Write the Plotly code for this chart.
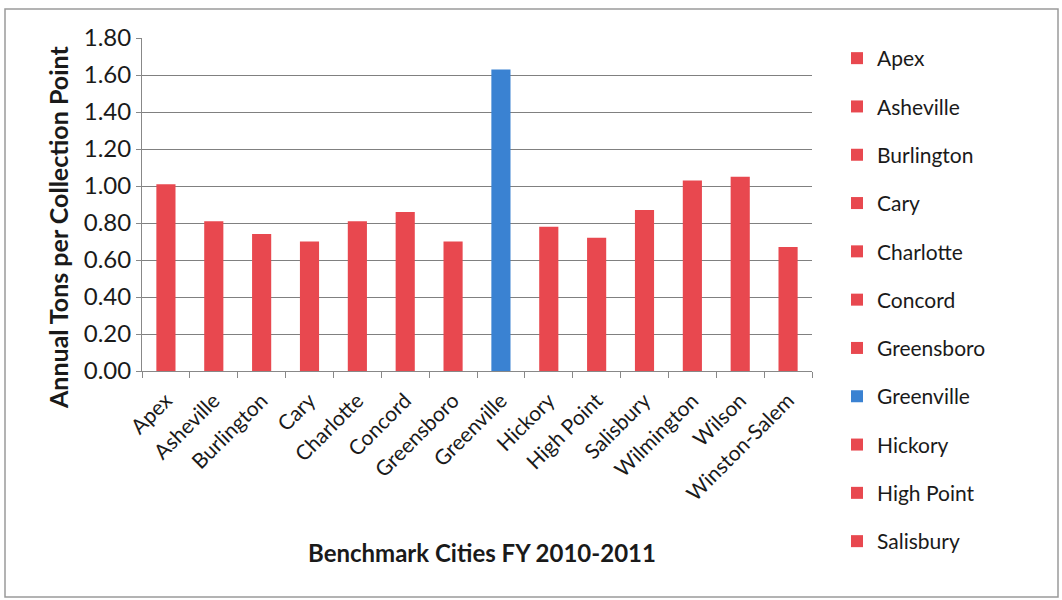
import plotly.graph_objects as go

# Benchmark cities and annual tons per collection point, FY 2010-2011
cities = ["Apex", "Asheville", "Burlington", "Cary", "Charlotte", "Concord",
          "Greensboro", "Greenville", "Hickory", "High Point", "Salisbury",
          "Wilmington", "Wilson", "Winston-Salem"]
tons = [1.01, 0.81, 0.74, 0.70, 0.81, 0.86, 0.70, 1.63, 0.78, 0.72, 0.87,
        1.03, 1.05, 0.67]
highlight = "Greenville"
legend_count = 11  # entries that fit in the legend box

RED = "#E8484F"
BLUE = "#3A82D2"
FONT = "Lato, Carlito, 'Open Sans', sans-serif"

fig = go.Figure()
for i, (c, v) in enumerate(zip(cities, tons)):
    fig.add_trace(go.Bar(
        x=[c], y=[v], name=c, width=0.4,
        marker=dict(color=BLUE if c == highlight else RED, line=dict(width=0)),
        showlegend=i < legend_count,
        legendgroup=c,
    ))

W, H = 1062, 600
L, R, T, B = 142, 250, 38, 229
pw, ph = W - L - R, H - T - B

def px(x):
    return (x - L) / pw

def py(y):
    return (H - B - y) / ph

fig.update_layout(
    width=W, height=H,
    margin=dict(l=L, r=R, t=T, b=B),
    paper_bgcolor="white", plot_bgcolor="white",
    barmode="overlay",
    font=dict(family=FONT, color="#1a1a1a"),
    showlegend=True,
    legend=dict(
        x=px(837), y=py(38), xanchor="left", yanchor="top",
        font=dict(size=21, family=FONT, color="#1a1a1a"),
        traceorder="grouped", tracegroupgap=18,
        itemwidth=30, bgcolor="rgba(0,0,0,0)",
        maxheight=560,
    ),
    xaxis=dict(
        categoryorder="array", categoryarray=cities,
        tickangle=-45, tickfont=dict(size=21, family=FONT, color="#1a1a1a"),
        ticks="outside", tickson="boundaries", ticklen=6, tickcolor="#888",
        ticklabelstandoff=8,
        showline=True, linecolor="#888", linewidth=1,
        showgrid=False, range=[-0.5, 13.5],
    ),
    yaxis=dict(
        range=[0, 1.8], dtick=0.2, tickformat=".2f",
        tickfont=dict(size=24, family=FONT, color="#1a1a1a"),
        showgrid=True, gridcolor="#808080", gridwidth=1,
        showline=True, linecolor="#888", linewidth=1,
        ticks="outside", ticklen=5, tickcolor="#888",
        zeroline=False,
    ),
    annotations=[
        dict(
            text="<b>Benchmark Cities FY 2010-2011</b>",
            xref="paper", yref="paper", x=px(482), y=py(552),
            xanchor="center", yanchor="middle", showarrow=False,
            font=dict(size=24, family=FONT, color="#1a1a1a"),
        ),
        dict(
            text="<b>Annual Tons per Collection Point</b>",
            xref="paper", yref="paper", x=px(58), y=py(228),
            xanchor="center", yanchor="middle", showarrow=False,
            textangle=-90,
            font=dict(size=25, family=FONT, color="#1a1a1a"),
        ),
    ],
    shapes=[dict(
        type="rect", xref="paper", yref="paper",
        x0=px(5), x1=px(1058), y0=py(597), y1=py(9),
        line=dict(color="#9a9a9a", width=1.5), layer="below",
    )],
)

fig.write_html("out.html")
